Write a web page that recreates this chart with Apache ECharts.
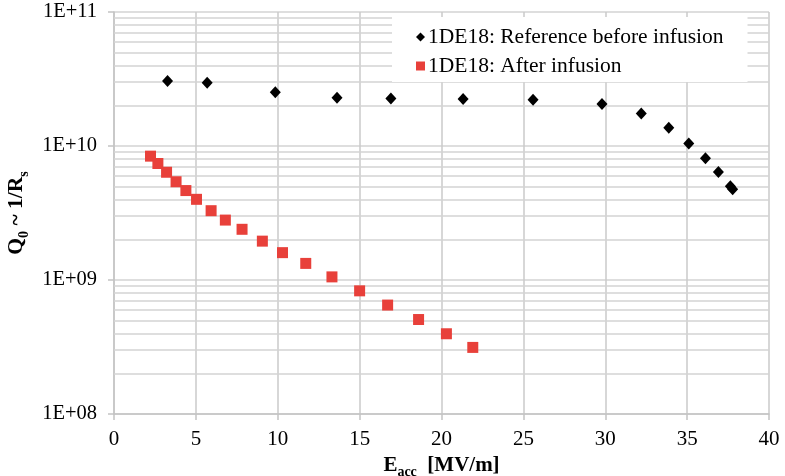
<!DOCTYPE html>
<html>
<head>
<meta charset="utf-8">
<style>
  html, body { margin: 0; padding: 0; background: #fff; }
  #chart { width: 785px; height: 476px; }
</style>
<script src="https://cdn.jsdelivr.net/npm/echarts@6/dist/echarts.min.js"></script>
</head>
<body>
<div id="chart"></div>
<script>
// Q0 vs accelerating gradient, cavity 1DE18
const seriesNames = ['1DE18: Reference before infusion', '1DE18: After infusion'];

const beforeEacc = [3.27, 5.69, 9.85, 13.62, 16.91, 21.32, 25.59, 29.80, 32.20, 33.88, 35.10, 36.12, 36.91, 37.64, 37.78];
const beforeQ0 = [3.05e10, 2.96e10, 2.52e10, 2.29e10, 2.26e10, 2.24e10, 2.21e10, 2.06e10, 1.75e10, 1.37e10, 1.045e10, 8.1e9, 6.4e9, 5.0e9, 4.75e9];

const afterEacc = [2.23, 2.68, 3.21, 3.79, 4.39, 5.04, 5.93, 6.80, 7.82, 9.06, 10.29, 11.71, 13.31, 15.00, 16.71, 18.60, 20.30, 21.91];
const afterQ0 = [8.4e9, 7.4e9, 6.37e9, 5.41e9, 4.65e9, 4.0e9, 3.29e9, 2.8e9, 2.39e9, 1.95e9, 1.6e9, 1.33e9, 1.055e9, 8.3e8, 6.5e8, 5.07e8, 3.97e8, 3.14e8];

const xTicks = [0, 5, 10, 15, 20, 25, 30, 35, 40];
const yTickLabels = { 8: '1E+08', 9: '1E+09', 10: '1E+10', 11: '1E+11' };

// minor log grid lines (2..9 within each decade)
const minorGrid = [];
for (let e = 8; e < 11; e++) {
  for (let m = 2; m <= 9; m++) minorGrid.push({ yAxis: m * Math.pow(10, e) });
}

const serif = '"Liberation Serif", "DejaVu Serif", serif';
const gridColor = '#d3d3d3';

const chart = echarts.init(document.getElementById('chart'));
chart.setOption({
  backgroundColor: '#fff',
  animation: false,
  grid: { left: 114, right: 16, top: 12, bottom: 62, outerBoundsMode: 'none', containLabel: false },
  legend: {
    data: [
      { name: seriesNames[0], icon: 'diamond' },
      { name: seriesNames[1], icon: 'rect' }
    ],
    orient: 'vertical',
    left: 392,
    top: 17,
    z: 4,
    backgroundColor: '#fff',
    padding: [9, 24, 5, 24],
    itemGap: 7,
    itemWidth: 9,
    itemHeight: 9,
    textStyle: { fontFamily: serif, fontSize: 21.5, lineHeight: 22, color: '#000', padding: [0, 0, 0, -2] }
  },
  xAxis: {
    type: 'value',
    min: xTicks[0],
    max: xTicks[xTicks.length - 1],
    interval: 5,
    name: '{b|E}{s|acc}{b|  [MV/m]}',
    nameLocation: 'middle',
    nameGap: 37,
    nameTextStyle: {
      rich: {
        b: { fontFamily: serif, fontSize: 21, fontWeight: 'bold', color: '#000', lineHeight: 22, verticalAlign: 'bottom' },
        s: { fontFamily: serif, fontSize: 14, fontWeight: 'bold', color: '#000', lineHeight: 22, verticalAlign: 'bottom', padding: [0, 0, -3, 0] }
      }
    },
    axisLine: { show: true, lineStyle: { color: '#c4c4c4', width: 1.5 } },
    axisTick: { show: true, length: 6, lineStyle: { color: '#c4c4c4', width: 1.5 } },
    axisLabel: { fontFamily: serif, fontSize: 21, color: '#000', margin: 15 },
    splitLine: { show: true, lineStyle: { color: '#cacaca', width: 1.5 } }
  },
  yAxis: {
    type: 'log',
    logBase: 10,
    min: 1e8,
    max: 1e11,
    name: '{b|Q}{s|0}{b| ~ 1/R}{s|s}',
    nameLocation: 'middle',
    nameRotate: 90,
    nameGap: 82,
    nameTextStyle: {
      rich: {
        b: { fontFamily: serif, fontSize: 21.5, fontWeight: 'bold', color: '#000', lineHeight: 24, verticalAlign: 'bottom' },
        s: { fontFamily: serif, fontSize: 14, fontWeight: 'bold', color: '#000', lineHeight: 24, verticalAlign: 'bottom', padding: [0, 0, -4, 0] }
      }
    },
    axisLine: { show: true, lineStyle: { color: '#c4c4c4', width: 1.5 } },
    axisTick: { show: true, length: 6, lineStyle: { color: '#c4c4c4', width: 1.5 } },
    axisLabel: {
      fontFamily: serif, fontSize: 20.5, color: '#000', margin: 17,
      formatter: v => yTickLabels[Math.round(Math.log10(v))] || ''
    },
    splitLine: { show: true, lineStyle: { color: gridColor, width: 1.5 } }
  },
  series: [
    {
      name: 'minor-grid',
      type: 'line',
      data: [],
      silent: true,
      z: 1,
      markLine: {
        silent: true,
        z: 1,
        symbol: 'none',
        label: { show: false },
        lineStyle: { type: 'solid', color: gridColor, width: 1.5 },
        emphasis: { disabled: true },
        data: minorGrid
      }
    },
    {
      name: seriesNames[0],
      type: 'scatter',
      symbol: 'diamond',
      symbolSize: [11, 12],
      itemStyle: { color: '#000', opacity: 1 },
      z: 10,
      data: beforeEacc.map((x, i) => [x, beforeQ0[i]])
    },
    {
      name: seriesNames[1],
      type: 'scatter',
      symbol: 'rect',
      symbolSize: 11,
      itemStyle: { color: '#e8403a', opacity: 1 },
      z: 10,
      data: afterEacc.map((x, i) => [x, afterQ0[i]])
    }
  ]
});
</script>
</body>
</html>
